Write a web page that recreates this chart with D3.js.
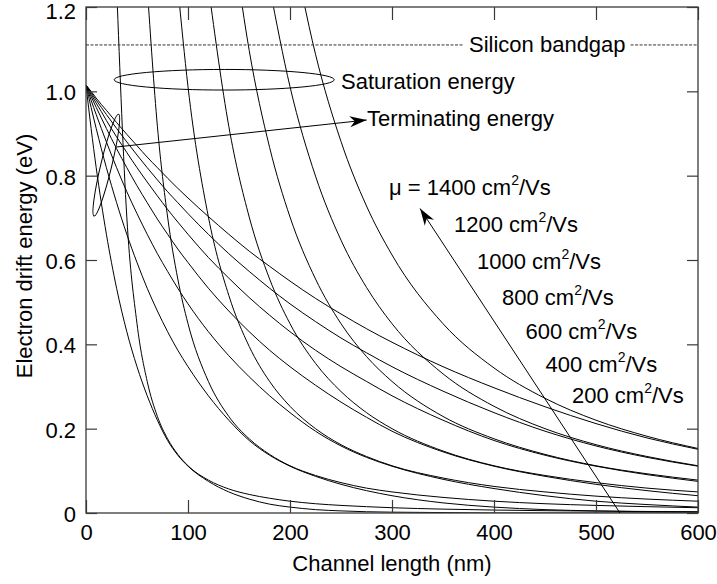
<!DOCTYPE html>
<html>
<head>
<meta charset="utf-8">
<script src="https://cdn.jsdelivr.net/npm/d3@7"></script>
<style>
  body { margin: 0; background: #fff; }
  svg { display: block; }
  text { font-family: "Liberation Sans", Arial, Helvetica, sans-serif; fill: #000; }
</style>
</head>
<body>
<svg id="chart" width="717" height="584"></svg>
<script>
// Channel lengths (nm) shared by every curve
const channelLength = [0, 5, 10, 15, 20, 30, 40, 50, 60, 70, 80, 90, 100, 120, 140, 160, 180, 200,
  225, 250, 275, 300, 350, 400, 450, 500, 550, 600];

// Electron mobilities (cm^2/Vs)
const mobilities = [200, 400, 600, 800, 1000, 1200, 1400];

// Saturation energy (eV) per mobility; null where the curve is above the plotted range
const sat200 = [null, null, null, null, null, 1.248, 0.702, 0.449, 0.312, 0.229, 0.176, 0.139, 0.112, 0.078,
  0.057, 0.044, 0.035, 0.028, 0.022, 0.018, 0.015, 0.0125, 0.0092, 0.0070, 0.0055, 0.0045, 0.0037, 0.0031];
const sat400 = [null, null, null, null, null, null, null, null, 1.248, 0.917, 0.702, 0.555, 0.449, 0.312,
  0.229, 0.176, 0.139, 0.112, 0.089, 0.072, 0.059, 0.050, 0.037, 0.028, 0.022, 0.018, 0.015, 0.0125];
const sat600 = [null, null, null, null, null, null, null, null, null, null, null, 1.248, 1.011, 0.702,
  0.516, 0.395, 0.312, 0.253, 0.200, 0.162, 0.134, 0.112, 0.083, 0.063, 0.050, 0.040, 0.033, 0.028];
const sat800 = [null, null, null, null, null, null, null, null, null, null, null, null, null, 1.248,
  0.917, 0.702, 0.555, 0.449, 0.355, 0.288, 0.238, 0.200, 0.147, 0.112, 0.089, 0.072, 0.059, 0.050];
const sat1000 = [null, null, null, null, null, null, null, null, null, null, null, null, null, null,
  1.433, 1.097, 0.867, 0.702, 0.555, 0.449, 0.371, 0.312, 0.229, 0.176, 0.139, 0.112, 0.093, 0.078];
const sat1200 = [null, null, null, null, null, null, null, null, null, null, null, null, null, null,
  null, null, 1.248, 1.011, 0.799, 0.647, 0.535, 0.449, 0.330, 0.253, 0.200, 0.162, 0.134, 0.112];
const sat1400 = [null, null, null, null, null, null, null, null, null, null, null, null, null, null,
  null, null, null, 1.376, 1.088, 0.881, 0.728, 0.612, 0.449, 0.344, 0.272, 0.220, 0.182, 0.153];

// Terminating energy (eV) per mobility
const term200 = [1.015, 0.912, 0.819, 0.736, 0.661, 0.533, 0.430, 0.347, 0.278, 0.220, 0.172, 0.137, 0.111,
  0.075, 0.050, 0.033, 0.021, 0.014, 0.008, 0.005, 0.003, 0.002, 0.001, 0, 0, 0, 0, 0];
const term400 = [1.015, 0.962, 0.912, 0.864, 0.819, 0.736, 0.661, 0.594, 0.533, 0.479, 0.430, 0.386, 0.347,
  0.278, 0.220, 0.172, 0.137, 0.111, 0.087, 0.068, 0.053, 0.041, 0.024, 0.014, 0.008, 0.005, 0.003, 0.002];
const term600 = [1.015, 0.979, 0.945, 0.912, 0.880, 0.819, 0.762, 0.710, 0.661, 0.615, 0.573, 0.533, 0.496,
  0.430, 0.373, 0.323, 0.278, 0.238, 0.194, 0.159, 0.132, 0.111, 0.080, 0.058, 0.041, 0.028, 0.020, 0.014];
const term800 = [1.015, 0.988, 0.962, 0.937, 0.912, 0.864, 0.819, 0.776, 0.736, 0.697, 0.661, 0.626, 0.594,
  0.533, 0.479, 0.430, 0.386, 0.347, 0.303, 0.263, 0.227, 0.194, 0.145, 0.111, 0.087, 0.068, 0.053, 0.041];
const term1000 = [1.015, 0.993, 0.972, 0.952, 0.931, 0.892, 0.855, 0.819, 0.785, 0.752, 0.720, 0.690, 0.661,
  0.606, 0.557, 0.511, 0.469, 0.430, 0.386, 0.347, 0.312, 0.278, 0.220, 0.172, 0.137, 0.111, 0.091, 0.075];
const term1200 = [1.015, 0.997, 0.979, 0.962, 0.945, 0.912, 0.880, 0.849, 0.819, 0.790, 0.762, 0.736, 0.710,
  0.661, 0.615, 0.573, 0.533, 0.496, 0.454, 0.415, 0.380, 0.347, 0.289, 0.238, 0.194, 0.159, 0.132, 0.111];
const term1400 = [1.015, 1.000, 0.984, 0.969, 0.955, 0.926, 0.898, 0.871, 0.844, 0.819, 0.794, 0.770, 0.747,
  0.703, 0.661, 0.621, 0.585, 0.550, 0.509, 0.472, 0.437, 0.405, 0.347, 0.297, 0.252, 0.212, 0.178, 0.151];

const saturationSeries = [sat200, sat400, sat600, sat800, sat1000, sat1200, sat1400];
const terminatingSeries = [term200, term400, term600, term800, term1000, term1200, term1400];

// Silicon bandgap (eV)
const bandgap = 1.11;

// Axis ticks
const xTicks = [0, 100, 200, 300, 400, 500, 600];
const yTicks = [0, 0.2, 0.4, 0.6, 0.8, 1.0, 1.2];

// Mobility labels, top to bottom
const mobilityLabels = ["\u03bc = 1400", "1200", "1000", "800", "600", "400", "200"];

// Mobility arrow: tail on the axis, head toward the higher mobility labels
const arrowTail = [523.5, 0];
const arrowHead = [327.5, 0.722];

// ---------------------------------------------------------------------------
const svg = d3.select("#chart");
const FONT = 22;
const AXIS_COLOR = "#3a3a3a";

const plot = { left: 86, right: 698, top: 7, bottom: 513 };
const x = d3.scaleLinear().domain([0, 600]).range([plot.left, plot.right]);
const y = d3.scaleLinear().domain([0, 1.2]).range([plot.bottom, plot.top]);

svg.append("rect").attr("width", 717).attr("height", 584).attr("fill", "#fff");

// arrowhead marker
const defs = svg.append("defs");
defs.append("marker")
  .attr("id", "head")
  .attr("viewBox", "-18 -7 19 14")
  .attr("markerUnits", "userSpaceOnUse")
  .attr("markerWidth", 19).attr("markerHeight", 14)
  .attr("refX", 0).attr("refY", 0)
  .attr("orient", "auto")
  .append("path")
  .attr("d", "M0,0 L-17,-5.5 L-12,0 L-17,5.5 Z")
  .attr("fill", "#000");

defs.append("clipPath").attr("id", "plotClip")
  .append("rect")
  .attr("x", plot.left).attr("y", plot.top)
  .attr("width", plot.right - plot.left).attr("height", plot.bottom - plot.top);

// curves
const line = d3.line()
  .defined(d => d[1] !== null)
  .x(d => x(d[0]))
  .y(d => y(d[1]))
  .curve(d3.curveMonotoneX);

const curves = svg.append("g").attr("clip-path", "url(#plotClip)");
const allSeries = saturationSeries.concat(terminatingSeries);
allSeries.forEach(vals => {
  curves.append("path")
    .datum(channelLength.map((L, i) => [L, vals[i]]))
    .attr("d", line)
    .attr("fill", "none")
    .attr("stroke", "#000")
    .attr("stroke-width", 1);
});

// axes (ticks point inward, on all four sides)
function styleAxis(g) {
  g.select(".domain").remove();
  g.selectAll(".tick line").attr("stroke", AXIS_COLOR).attr("stroke-width", 1.2);
  g.selectAll(".tick text")
    .attr("font-size", FONT)
    .attr("font-family", '"Liberation Sans", Arial, sans-serif')
    .attr("fill", "#000");
}
const yFmt = d => (d === 0 ? "0" : d3.format(".1f")(d));

svg.append("g").attr("transform", `translate(0,${plot.bottom})`)
  .call(d3.axisBottom(x).tickValues(xTicks).tickSizeInner(-13).tickSizeOuter(0).tickPadding(11))
  .call(styleAxis);
svg.append("g").attr("transform", `translate(0,${plot.top})`)
  .call(d3.axisTop(x).tickValues(xTicks).tickSizeInner(-13).tickSizeOuter(0).tickFormat(""))
  .call(styleAxis);
const leftAxis = svg.append("g").attr("transform", `translate(${plot.left},0)`)
  .call(d3.axisLeft(y).tickValues(yTicks).tickSizeInner(-11).tickSizeOuter(0).tickPadding(10).tickFormat(yFmt))
  .call(styleAxis);
// labels sit a touch below their ticks; the top one is nudged further to stay inside the page
leftAxis.selectAll(".tick text")
  .attr("dy", d => (d === 1.2 ? "0.5em" : "0.38em"));
svg.append("g").attr("transform", `translate(${plot.right},0)`)
  .call(d3.axisRight(y).tickValues(yTicks).tickSizeInner(-11).tickSizeOuter(0).tickFormat(""))
  .call(styleAxis);

// frame
svg.append("rect")
  .attr("x", plot.left).attr("y", plot.top)
  .attr("width", plot.right - plot.left).attr("height", plot.bottom - plot.top)
  .attr("fill", "none").attr("stroke", AXIS_COLOR).attr("stroke-width", 1.3);

// axis titles
svg.append("text")
  .attr("x", (plot.left + plot.right) / 2).attr("y", 571)
  .attr("text-anchor", "middle").attr("font-size", FONT)
  .text("Channel length (nm)");
svg.append("text")
  .attr("transform", "translate(31.5,256) rotate(-90)")
  .attr("text-anchor", "middle").attr("font-size", FONT)
  .text("Electron drift energy (eV)");

// silicon bandgap reference line with its label set into a gap
const gapLabel = svg.append("text")
  .attr("x", 469).attr("y", 52)
  .attr("font-size", FONT)
  .text("Silicon bandgap");
const gb = gapLabel.node().getBBox();
const yb = y(bandgap);
[[plot.left, gb.x - 5], [gb.x + gb.width + 5, plot.right]].forEach(([a, b]) => {
  svg.append("line")
    .attr("x1", a).attr("x2", b).attr("y1", yb).attr("y2", yb)
    .attr("stroke", "#333").attr("stroke-width", 1)
    .attr("stroke-dasharray", "3,1.5");
});

// saturation energy annotation
svg.append("ellipse")
  .attr("cx", x(135.5)).attr("cy", y(1.0275))
  .attr("rx", 110).attr("ry", 10.3)
  .attr("fill", "none").attr("stroke", "#000").attr("stroke-width", 1);
svg.append("text")
  .attr("x", 341).attr("y", 88.5).attr("font-size", FONT)
  .text("Saturation energy");

// terminating energy annotation
const ecx = x(19.9), ecy = y(0.825);
svg.append("ellipse")
  .attr("cx", 0).attr("cy", 0)
  .attr("rx", 5.5).attr("ry", 52.4)
  .attr("transform", `translate(${ecx},${ecy}) rotate(13.5)`)
  .attr("fill", "none").attr("stroke", "#000").attr("stroke-width", 1);
svg.append("line")
  .attr("x1", x(29.9)).attr("y1", y(0.868))
  .attr("x2", x(275.2)).attr("y2", y(0.932))
  .attr("stroke", "#000").attr("stroke-width", 1)
  .attr("marker-end", "url(#head)");
svg.append("text")
  .attr("x", 367).attr("y", 126).attr("font-size", FONT)
  .text("Terminating energy");

// mobility arrow
svg.append("line")
  .attr("x1", x(arrowTail[0])).attr("y1", y(arrowTail[1]))
  .attr("x2", x(arrowHead[0])).attr("y2", y(arrowHead[1]))
  .attr("stroke", "#000").attr("stroke-width", 1)
  .attr("marker-end", "url(#head)");

// mobility labels stepping down to the right
const labelPos = [[389, 195], [454, 231.5], [477, 269], [502, 305], [525.5, 339], [545.5, 371.5], [572, 403]];
mobilityLabels.forEach((lab, i) => {
  const t = svg.append("text")
    .attr("x", labelPos[i][0]).attr("y", labelPos[i][1])
    .attr("font-size", FONT);
  t.append("tspan").text(lab + " cm");
  t.append("tspan").attr("font-size", 14).attr("dy", -10).text("2");
  t.append("tspan").attr("dy", 10).text("/Vs");
});
</script>
</body>
</html>
